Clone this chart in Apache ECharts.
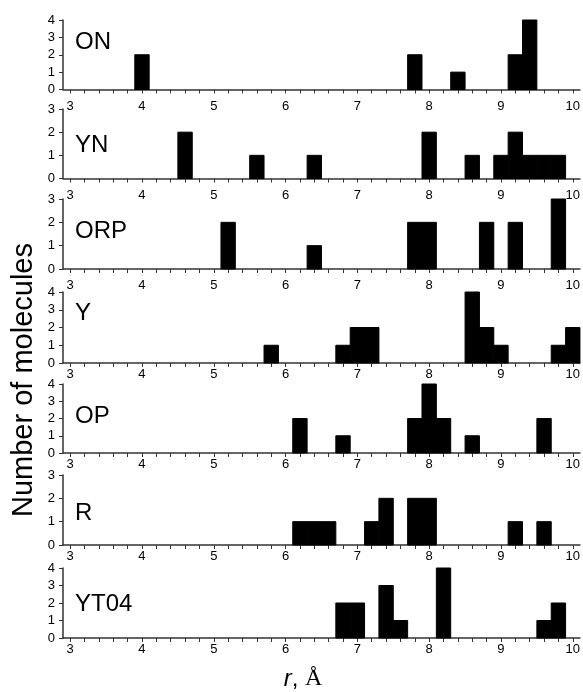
<!DOCTYPE html>
<html>
<head>
<meta charset="utf-8">
<script src="https://cdn.jsdelivr.net/npm/echarts@6/dist/echarts.min.js"></script>
<style>
  html, body { margin: 0; padding: 0; background: #fff; }
  #chart { width: 583px; height: 692px; }
</style>
</head>
<body>
<div id="chart"></div>
<script>
// histogram bins are 0.2 A wide, values are [bin centre r, count]
const panelNames = ['ON', 'YN', 'ORP', 'Y', 'OP', 'R', 'YT04']
const binsON = [[4.0, 2], [7.8, 2], [8.4, 1], [9.2, 2], [9.4, 4]]
const binsYN = [[4.6, 2], [5.6, 1], [6.4, 1], [8.0, 2], [8.6, 1], [9.0, 1], [9.2, 2], [9.4, 1], [9.6, 1], [9.8, 1]]
const binsORP = [[5.2, 2], [6.4, 1], [7.8, 2], [8.0, 2], [8.8, 2], [9.2, 2], [9.8, 3]]
const binsY = [[5.8, 1], [6.8, 1], [7.0, 2], [7.2, 2], [8.6, 4], [8.8, 2], [9.0, 1], [9.8, 1], [10.0, 2]]
const binsOP = [[6.2, 2], [6.8, 1], [7.8, 2], [8.0, 4], [8.2, 2], [8.6, 1], [9.6, 2]]
const binsR = [[6.2, 1], [6.4, 1], [6.6, 1], [7.2, 1], [7.4, 2], [7.8, 2], [8.0, 2], [9.2, 1], [9.6, 1]]
const binsYT04 = [[6.8, 2], [7.0, 2], [7.4, 3], [7.6, 1], [8.2, 4], [9.6, 1], [9.8, 2]]
const panelBins = [binsON, binsYN, binsORP, binsY, binsOP, binsR, binsYT04]
const yMax = [4, 3, 3, 4, 4, 3, 4]
const xMajorTicks = [3, 4, 5, 6, 7, 8, 9, 10]
const binWidth = 0.2

const xMinorTicks = []
for (let i = 0; i <= 35; i++) xMinorTicks.push(Math.round((3 + i * binWidth) * 10) / 10)

// layout (px)
const gridTops = [20, 109, 199, 292, 384, 475, 568]
const gridHeights = [69.5, 69.5, 70, 71, 69, 70, 70]
const labelGaps = [10, 10, 10, 5, 5, 5, 5]
const labelDy = [24, 38, 34.5, 23.5, 34, 40, 38]
const FONT = '"Liberation Sans", Arial, sans-serif'
const AXIS_COLOR = '#333'

function renderBin(params, api) {
  const r = api.value(0)
  const n = api.value(1)
  const p0 = api.coord([r - binWidth / 2, n])
  const p1 = api.coord([r + binWidth / 2, 0])
  return {
    type: 'rect',
    shape: { x: p0[0], y: p0[1], width: p1[0] - p0[0], height: p1[1] - p0[1] },
    style: { fill: '#000', stroke: '#000', lineWidth: 1 },
  }
}

const grid = []
const xAxis = []
const yAxis = []
const series = []
const graphic = []

panelBins.forEach((bins, i) => {
  grid.push({ left: 63, right: 0, top: gridTops[i], height: gridHeights[i] })
  xAxis.push({
    type: 'value',
    gridIndex: i,
    min: 2.9,
    max: 10.1,
    axisLine: { show: true, lineStyle: { color: AXIS_COLOR, width: 1.5 } },
    axisTick: { show: true, inside: false, length: 4, customValues: xMinorTicks, lineStyle: { color: AXIS_COLOR } },
    axisLabel: { show: true, customValues: xMajorTicks, margin: labelGaps[i], color: '#000', fontSize: 13, fontFamily: FONT },
    splitLine: { show: false },
  })
  yAxis.push({
    type: 'value',
    gridIndex: i,
    min: 0,
    max: yMax[i],
    interval: 1,
    axisLine: { show: true, lineStyle: { color: AXIS_COLOR, width: 1.5 } },
    axisTick: { show: true, inside: false, length: 4, lineStyle: { color: AXIS_COLOR } },
    axisLabel: { color: '#000', fontSize: 13, fontFamily: FONT, margin: 8 },
    splitLine: { show: false },
  })
  series.push({
    type: 'custom',
    xAxisIndex: i,
    yAxisIndex: i,
    renderItem: renderBin,
    encode: { x: 0, y: 1 },
    data: bins,
    clip: false,
    silent: true,
  })
  graphic.push({
    type: 'text',
    left: 75,
    top: gridTops[i] + labelDy[i] - 14,
    style: { text: panelNames[i], font: '24px ' + FONT, fill: '#000' },
  })
})

graphic.push({
  type: 'text',
  x: 24,
  y: 380,
  rotation: Math.PI / 2,
  style: {
    text: 'Number of molecules',
    font: '29px ' + FONT,
    fill: '#000',
    align: 'center',
    verticalAlign: 'middle',
  },
})

graphic.push({
  type: 'text',
  x: 303,
  y: 679,
  style: {
    text: '{i|r}{n|, }{a|Å}',
    align: 'center',
    verticalAlign: 'middle',
    rich: {
      i: { font: 'italic 24px ' + FONT, fill: '#000' },
      n: { font: '24px ' + FONT, fill: '#000' },
      a: { font: '24px "Liberation Serif", "Times New Roman", serif', fill: '#000' },
    },
  },
})

const chart = echarts.init(document.getElementById('chart'), undefined, { renderer: 'canvas' })
chart.setOption({
  animation: false,
  backgroundColor: '#fff',
  grid,
  xAxis,
  yAxis,
  series,
  graphic,
})
</script>
</body>
</html>
